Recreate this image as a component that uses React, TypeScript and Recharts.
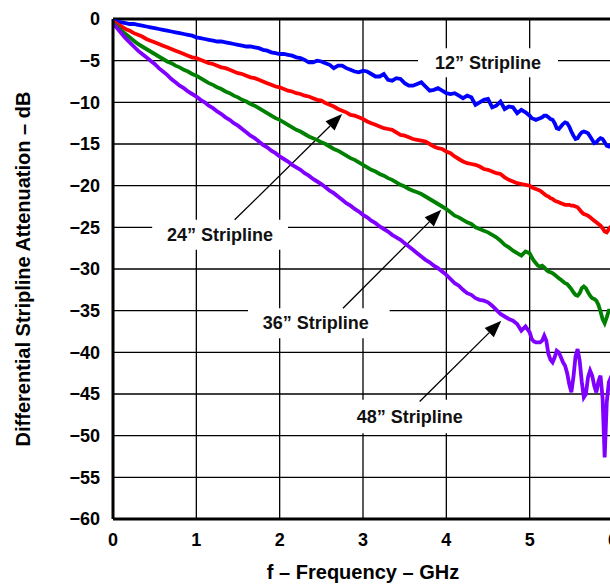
import React from 'react'
import {
    LineChart,
    Line,
    XAxis,
    YAxis,
    CartesianGrid,
    ReferenceArea,
    ReferenceLine,
    Label,
} from 'recharts'

// frequency points (GHz): 0.05 steps up to 5 GHz, 0.025 steps above
const freq = [
    0, 0.05, 0.1, 0.15, 0.2, 0.25, 0.3, 0.35, 0.4, 0.45,
    0.5, 0.55, 0.6, 0.65, 0.7, 0.75, 0.8, 0.85, 0.9, 0.95,
    1, 1.05, 1.1, 1.15, 1.2, 1.25, 1.3, 1.35, 1.4, 1.45,
    1.5, 1.55, 1.6, 1.65, 1.7, 1.75, 1.8, 1.85, 1.9, 1.95,
    2, 2.05, 2.1, 2.15, 2.2, 2.25, 2.3, 2.35, 2.4, 2.45,
    2.5, 2.55, 2.6, 2.65, 2.7, 2.75, 2.8, 2.85, 2.9, 2.95,
    3, 3.05, 3.1, 3.15, 3.2, 3.25, 3.3, 3.35, 3.4, 3.45,
    3.5, 3.55, 3.6, 3.65, 3.7, 3.75, 3.8, 3.85, 3.9, 3.95,
    4, 4.05, 4.1, 4.15, 4.2, 4.25, 4.3, 4.35, 4.4, 4.45,
    4.5, 4.55, 4.6, 4.65, 4.7, 4.75, 4.8, 4.85, 4.9, 4.95,
    5,
    5.025, 5.05, 5.075, 5.1, 5.125, 5.15, 5.175, 5.2, 5.225, 5.25,
    5.275, 5.3, 5.325, 5.35, 5.375, 5.4, 5.425, 5.45, 5.475, 5.5,
    5.525, 5.55, 5.575, 5.6, 5.625, 5.65, 5.675, 5.7, 5.725, 5.75,
    5.775, 5.8, 5.825, 5.85, 5.875, 5.9, 5.925, 5.95, 5.975, 6,
]

// attenuation (dB) for each stripline length
const strip12 = [
    -0.2, -0.3, -0.4, -0.5, -0.6, -0.6, -0.7, -0.8, -0.9, -1.0,
    -1.1, -1.2, -1.3, -1.4, -1.5, -1.6, -1.7, -1.8, -1.9, -2.0,
    -2.2, -2.3, -2.4, -2.5, -2.6, -2.7, -2.7, -2.8, -2.9, -3.0,
    -3.1, -3.2, -3.3, -3.3, -3.4, -3.5, -3.7, -3.8, -4.0, -4.1,
    -4.2, -4.2, -4.3, -4.4, -4.6, -4.7, -4.9, -5.2, -5.2, -5.0,
    -5.1, -5.3, -5.5, -5.9, -5.6, -5.6, -5.9, -6.1, -6.3, -6.4,
    -6.2, -6.3, -6.6, -6.9, -6.9, -6.6, -7.3, -7.4, -7.1, -7.2,
    -7.7, -8.0, -8.0, -7.8, -7.6, -8.1, -8.6, -8.5, -8.3, -8.6,
    -8.9, -9.0, -8.9, -9.2, -9.5, -9.2, -9.4, -10.3, -10.0, -9.7,
    -9.6, -10.6, -10.4, -9.9, -10.8, -10.5, -10.6, -11.3, -10.9, -11.2,
    -11.6,
    -11.9, -12.0, -12.1, -12.0, -11.9, -11.8, -11.6, -11.6, -11.8, -12.0,
    -12.1, -12.5, -13.1, -13.2, -12.9, -12.6, -12.4, -12.5, -12.9, -13.5,
    -14.0, -14.4, -14.3, -13.9, -13.6, -13.5, -13.6, -13.7, -14.1, -14.5,
    -14.9, -14.8, -14.5, -14.3, -14.4, -14.8, -15.2, -15.3, -15.1, -14.9,
]

const strip24 = [
    -0.3, -0.6, -0.9, -1.2, -1.4, -1.7, -1.9, -2.1, -2.4, -2.6,
    -2.8, -3.0, -3.2, -3.4, -3.6, -3.8, -4.0, -4.2, -4.4, -4.6,
    -4.7, -4.9, -5.1, -5.3, -5.4, -5.6, -5.8, -5.9, -6.1, -6.3,
    -6.5, -6.6, -6.8, -7.0, -7.1, -7.3, -7.5, -7.7, -7.9, -8.1,
    -8.2, -8.4, -8.6, -8.7, -8.9, -9.0, -9.2, -9.3, -9.5, -9.7,
    -9.8, -10.1, -10.3, -10.5, -10.8, -11.0, -11.2, -11.5, -11.6, -11.8,
    -12.0, -12.3, -12.5, -12.7, -12.9, -13.1, -13.2, -13.3, -13.6, -13.9,
    -14.0, -14.2, -14.4, -14.5, -14.6, -14.7, -15.0, -15.3, -15.5, -15.6,
    -15.9, -16.1, -16.5, -16.8, -17.1, -17.3, -17.4, -17.5, -17.7, -18.0,
    -18.1, -18.3, -18.5, -18.6, -19.0, -19.3, -19.5, -19.7, -19.8, -19.9,
    -20.0,
    -20.2, -20.3, -20.4, -20.5, -20.6, -20.8, -21.0, -21.2, -21.3, -21.5,
    -21.6, -21.8, -21.9, -22.0, -22.1, -22.2, -22.3, -22.3, -22.3, -22.4,
    -22.4, -22.5, -22.6, -22.9, -23.2, -23.4, -23.5, -23.6, -23.8, -24.0,
    -24.2, -24.4, -24.6, -24.8, -25.1, -25.5, -25.6, -25.2, -24.9, -25.0,
]

const strip36 = [
    -0.5, -0.9, -1.4, -1.8, -2.2, -2.6, -3.0, -3.3, -3.6, -3.9,
    -4.2, -4.5, -4.8, -5.1, -5.3, -5.6, -5.8, -6.1, -6.3, -6.6,
    -6.8, -7.1, -7.4, -7.7, -7.9, -8.2, -8.4, -8.7, -8.9, -9.2,
    -9.4, -9.7, -9.9, -10.2, -10.4, -10.7, -11.0, -11.3, -11.6, -11.9,
    -12.1, -12.4, -12.7, -13.0, -13.3, -13.5, -13.8, -14.1, -14.3, -14.5,
    -14.8, -15.0, -15.3, -15.6, -15.8, -16.1, -16.4, -16.7, -16.9, -17.2,
    -17.5, -17.8, -18.1, -18.3, -18.6, -18.8, -19.1, -19.3, -19.6, -19.9,
    -20.1, -20.4, -20.6, -20.8, -21.0, -21.3, -21.6, -21.9, -22.2, -22.5,
    -22.8, -23.2, -23.6, -23.8, -24.1, -24.4, -24.6, -25.0, -25.2, -25.4,
    -25.6, -25.9, -26.2, -26.6, -27.1, -27.4, -27.8, -28.1, -28.4, -27.9,
    -28.1,
    -28.6, -29.0, -29.3, -29.6, -29.7, -29.6, -29.8, -30.1, -30.3, -30.4,
    -30.5, -30.7, -30.9, -31.1, -31.3, -31.5, -31.7, -31.8, -32.1, -32.4,
    -32.8, -33.1, -33.2, -32.9, -32.3, -32.1, -32.3, -32.8, -33.2, -33.5,
    -33.6, -33.8, -34.3, -35.1, -36.0, -36.5, -35.8, -35.0, -35.0, -35.3,
]

const strip48 = [
    -0.6, -1.1, -1.7, -2.3, -2.8, -3.3, -3.8, -4.2, -4.6, -5.0,
    -5.4, -5.9, -6.3, -6.7, -7.2, -7.6, -8.0, -8.3, -8.7, -9.0,
    -9.3, -9.7, -10.0, -10.4, -10.7, -11.1, -11.4, -11.8, -12.1, -12.5,
    -12.8, -13.2, -13.6, -14.0, -14.3, -14.7, -15.1, -15.4, -15.8, -16.1,
    -16.5, -16.8, -17.1, -17.5, -17.8, -18.1, -18.5, -18.8, -19.2, -19.5,
    -19.8, -20.2, -20.6, -20.9, -21.3, -21.7, -22.1, -22.4, -22.8, -23.1,
    -23.5, -23.8, -24.2, -24.5, -24.9, -25.2, -25.5, -25.9, -26.2, -26.5,
    -26.9, -27.3, -27.7, -28.1, -28.5, -28.9, -29.2, -29.6, -29.9, -30.3,
    -30.7, -31.2, -31.7, -32.0, -32.5, -32.9, -33.1, -33.5, -33.7, -33.8,
    -34.0, -34.4, -34.9, -35.4, -35.7, -36.0, -36.2, -36.6, -37.4, -36.9,
    -37.6,
    -38.4, -38.7, -38.8, -38.8, -38.8, -38.6, -38.0, -38.6, -40.2, -40.9,
    -41.2, -40.6, -39.8, -40.0, -40.6, -41.2, -41.6, -42.5, -43.8, -44.8,
    -43.0, -40.5, -39.6, -41.0, -43.5, -45.4, -45.0, -43.0, -42.2, -42.8,
    -44.0, -44.8, -43.5, -42.8, -45.5, -52.6, -46.0, -43.6, -43.0, -43.4,
]

const xTicks = [0, 1, 2, 3, 4, 5, 6]
const yTicks = [0, -5, -10, -15, -20, -25, -30, -35, -40, -45, -50, -55, -60]

const data = freq.map((f, i) => ({
    f,
    s12: strip12[i],
    s24: strip24[i],
    s36: strip36[i],
    s48: strip48[i],
}))

const FONT = '"Liberation Sans", Arial, Helvetica, sans-serif'
const tickStyle = { fill: '#000', fontSize: 18, fontWeight: 'bold', fontFamily: FONT }

// text centred in a white box that masks the grid behind it
const boxText = (text: string, shift = 0) => ({ viewBox }: any) => (
    <text
        x={viewBox.x + viewBox.width / 2 + shift}
        y={viewBox.y + viewBox.height / 2}
        textAnchor='middle'
        dominantBaseline='central'
        fontFamily={FONT}
        fontSize={18}
        fontWeight='bold'
        fill='#111'
    >
        {text}
    </text>
)

// leader line with a filled arrowhead at the second point
const Arrow = (props: any) => {
    const { x1, y1, x2, y2 } = props
    const ang = Math.atan2(y2 - y1, x2 - x1)
    const len = 17
    const half = 6.5
    const bx = x2 - len * Math.cos(ang)
    const by = y2 - len * Math.sin(ang)
    const px = -Math.sin(ang) * half
    const py = Math.cos(ang) * half
    return (
        <g>
            <line x1={x1} y1={y1} x2={bx} y2={by} stroke='#000' strokeWidth={1.3} />
            <polygon
                points={`${x2},${y2} ${bx + px},${by + py} ${bx - px},${by - py}`}
                fill='#000'
            />
        </g>
    )
}

const fmtY = (v: number) => (v < 0 ? '\u2212' + Math.abs(v) : '0')

export default function App() {
    return (
        <div
            style={{
                position: 'fixed',
                top: 0,
                left: 0,
                width: 610,
                height: 585,
                overflow: 'hidden',
                background: '#fff',
            }}
        >
            <LineChart
                width={625}
                height={585}
                data={data}
                margin={{ top: 19, right: 12, bottom: 0, left: 0 }}
            >
                <CartesianGrid stroke='#000' strokeWidth={1.3} />
                <XAxis
                    type='number'
                    dataKey='f'
                    domain={[0, 6]}
                    ticks={xTicks}
                    height={66}
                    tickSize={0}
                    tickMargin={14}
                    tick={tickStyle}
                    axisLine={{ stroke: '#000', strokeWidth: 3 }}
                >
                    <Label
                        content={({ viewBox }: any) => (
                            <text
                                x={viewBox.x + viewBox.width / 2}
                                y={viewBox.y + 53}
                                textAnchor='middle'
                                dominantBaseline='central'
                                fontFamily={FONT}
                                fontSize={20}
                                fontWeight='bold'
                                fill='#000'
                            >
                                f – Frequency – GHz
                            </text>
                        )}
                    />
                </XAxis>
                <YAxis
                    type='number'
                    domain={[-60, 0]}
                    ticks={yTicks}
                    width={113}
                    tickSize={0}
                    tickMargin={13}
                    tick={tickStyle}
                    tickFormatter={fmtY}
                    axisLine={{ stroke: '#000', strokeWidth: 3 }}
                >
                    <Label
                        content={({ viewBox }: any) => {
                            const cx = 23
                            const cy = viewBox.y + viewBox.height / 2
                            return (
                                <text
                                    x={cx}
                                    y={cy}
                                    transform={`rotate(-90 ${cx} ${cy})`}
                                    textAnchor='middle'
                                    dominantBaseline='central'
                                    fontFamily={FONT}
                                    fontSize={20}
                                    fontWeight='bold'
                                    fill='#000'
                                >
                                    Differential Stripline Attenuation – dB
                                </text>
                            )
                        }}
                    />
                </YAxis>
                <ReferenceLine y={0} stroke='#000' strokeWidth={3} />

                <ReferenceArea x1={3.66} x2={5.34} y1={-3.5} y2={-7.0} fill='#fff' fillOpacity={1} stroke='none'
                    label={{ content: boxText('12\u201D Stripline') }} />
                <ReferenceArea x1={0.47} x2={2.1} y1={-24.1} y2={-27.7} fill='#fff' fillOpacity={1} stroke='none'
                    label={{ content: boxText('24\u201D Stripline') }} />
                <ReferenceArea x1={1.62} x2={3.32} y1={-34.7} y2={-38.3} fill='#fff' fillOpacity={1} stroke='none'
                    label={{ content: boxText('36\u201D Stripline', -3) }} />
                <ReferenceArea x1={2.84} x2={4.28} y1={-45.7} y2={-49.7} fill='#fff' fillOpacity={1} stroke='none'
                    label={{ content: boxText('48\u201D Stripline') }} />

                <ReferenceLine segment={[{ x: 1.46, y: -24.1 }, { x: 2.75, y: -11.4 }]} shape={Arrow} />
                <ReferenceLine segment={[{ x: 2.76, y: -34.7 }, { x: 3.94, y: -22.9 }]} shape={Arrow} />
                <ReferenceLine segment={[{ x: 3.68, y: -45.9 }, { x: 4.66, y: -36.2 }]} shape={Arrow} />

                <Line type='linear' dataKey='s12' stroke='#0000ff' strokeWidth={3.8} dot={false} isAnimationActive={false} />
                <Line type='linear' dataKey='s24' stroke='#ff0000' strokeWidth={3.8} dot={false} isAnimationActive={false} />
                <Line type='linear' dataKey='s36' stroke='#008000' strokeWidth={3.8} dot={false} isAnimationActive={false} />
                <Line type='linear' dataKey='s48' stroke='#8000ff' strokeWidth={3.8} dot={false} isAnimationActive={false} />
            </LineChart>
        </div>
    )
}
